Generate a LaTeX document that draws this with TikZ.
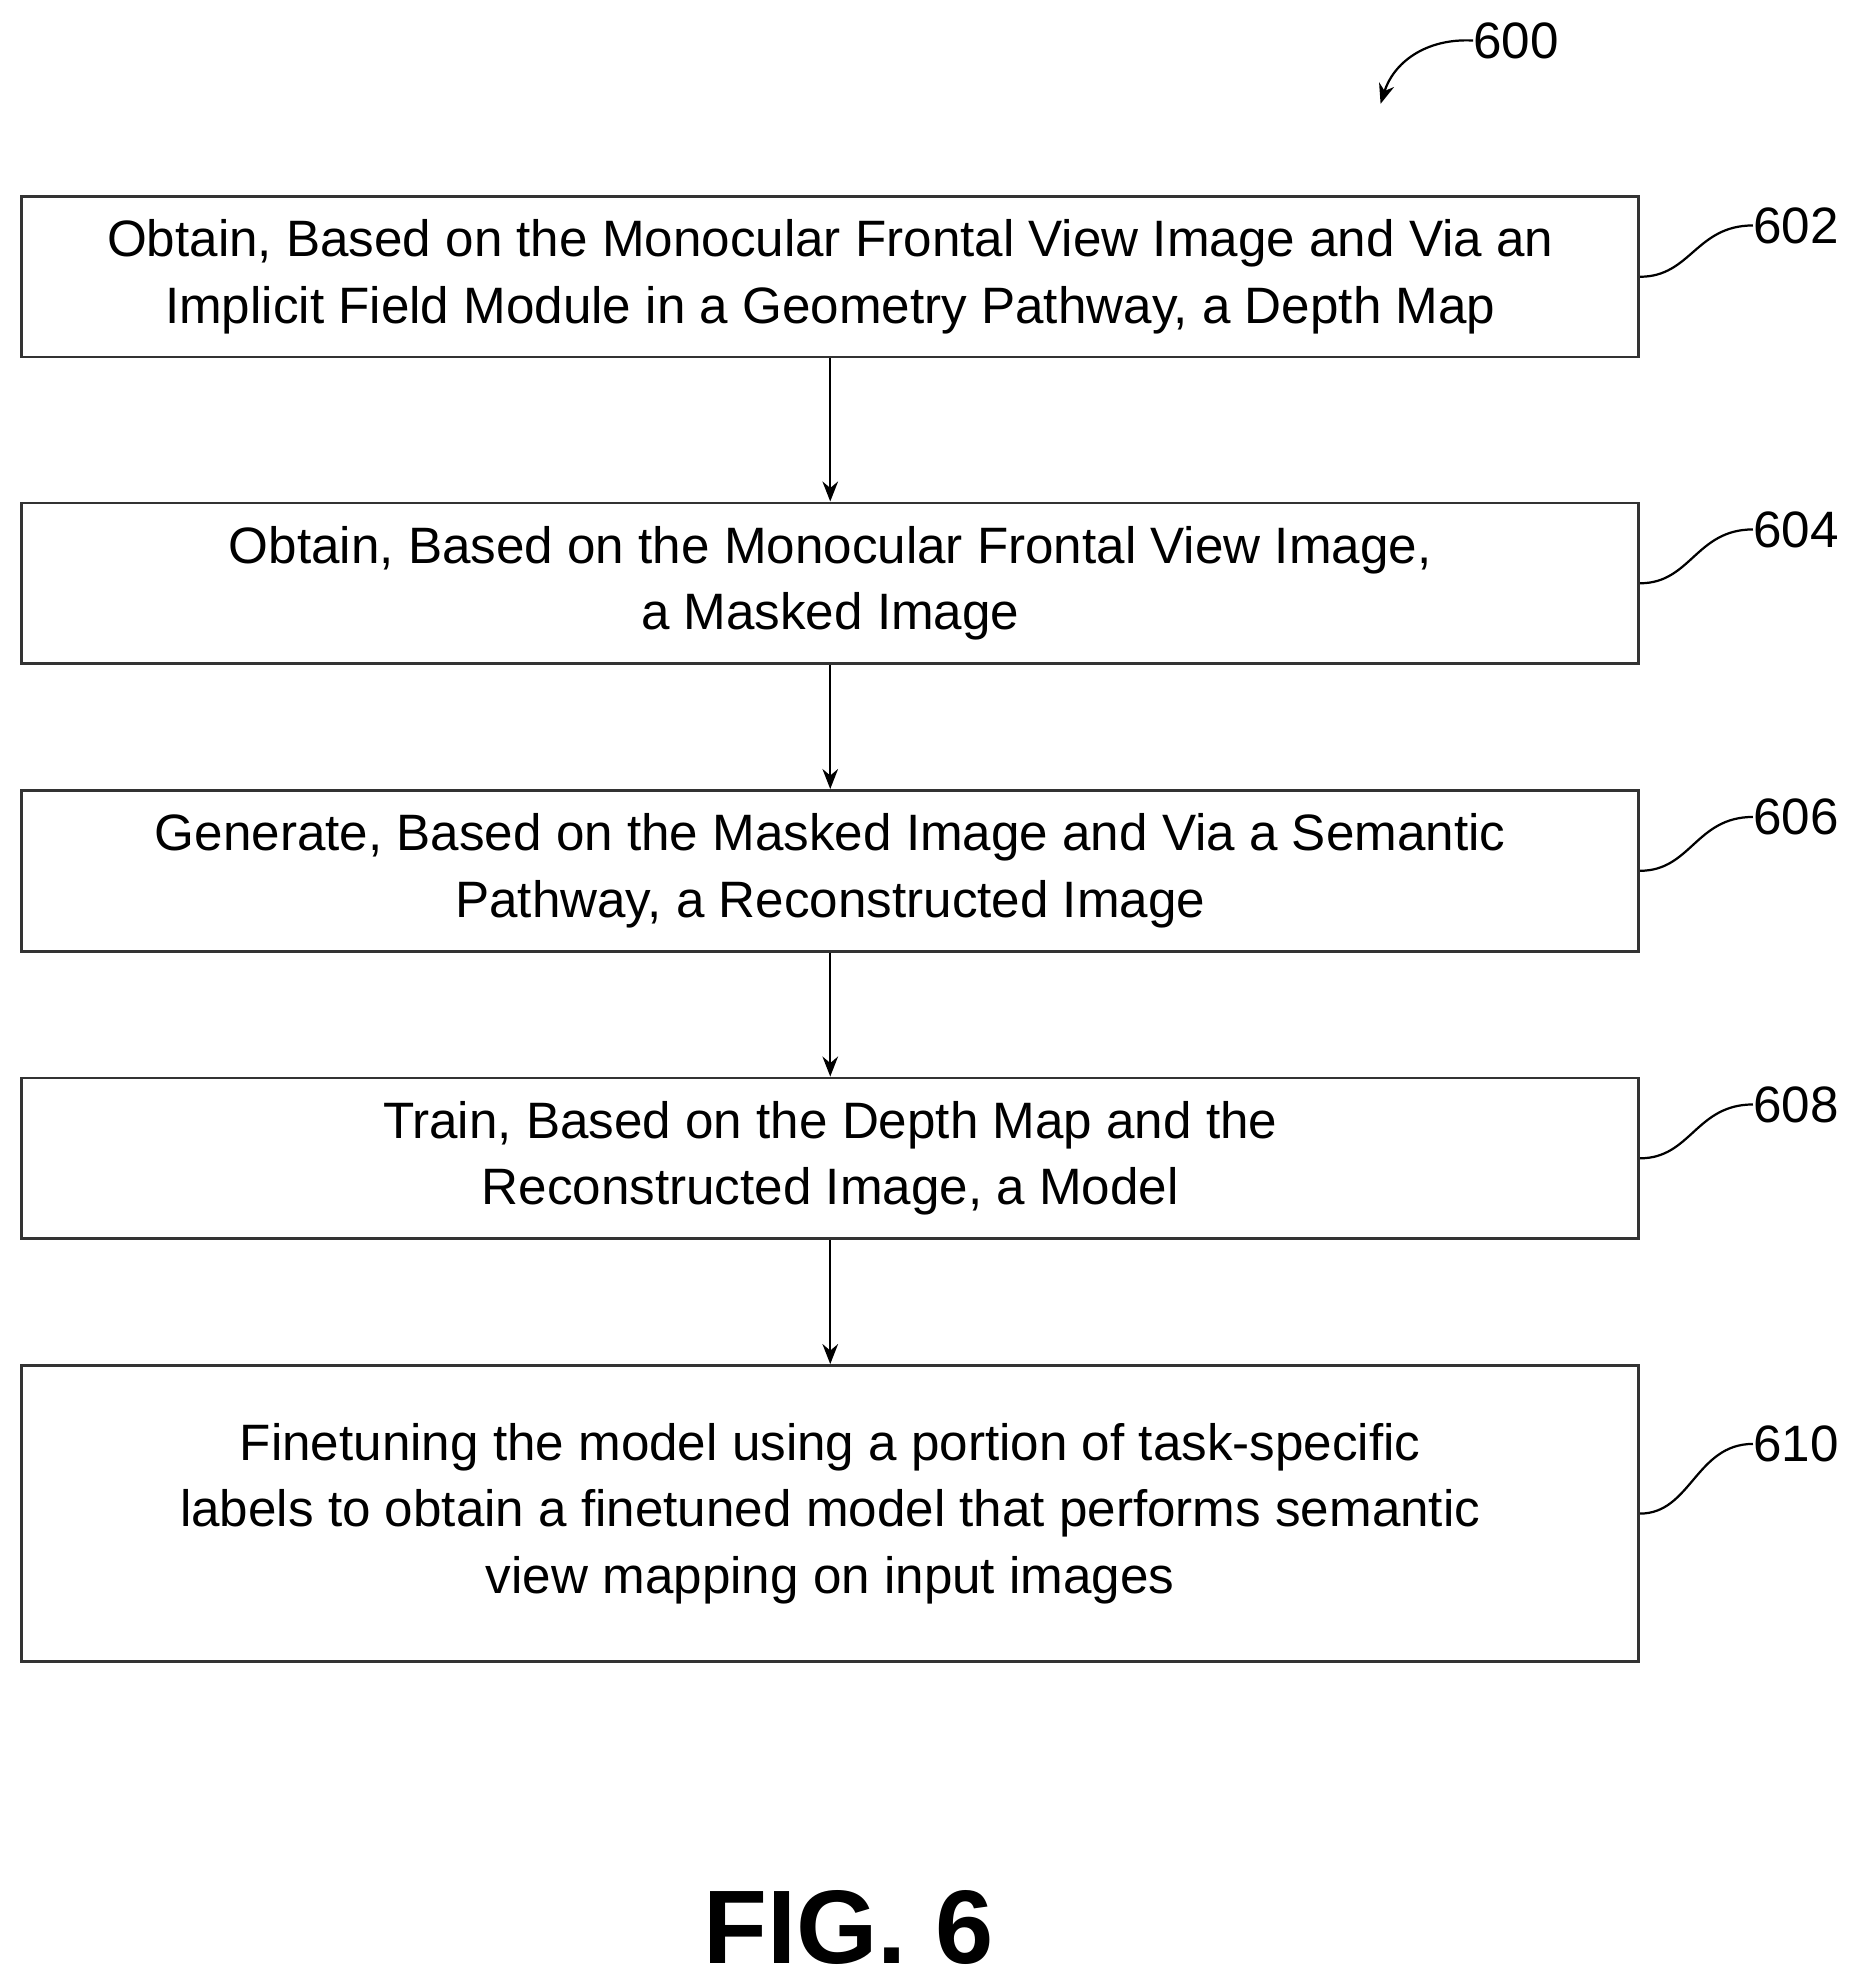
\documentclass[tikz,border=0pt]{standalone}
\usepackage{fontspec}
\setmainfont{Liberation Sans}
\usetikzlibrary{arrows.meta,calc}
\begin{document}
\begin{tikzpicture}[x=0.02cm,y=-0.02cm,
 box/.style={draw=black!80,line width=1.2pt,minimum width=25.54cm,align=center,font=\fontsize{23}{30}\selectfont,inner sep=0pt},
 lab/.style={font=\fontsize{23}{28}\selectfont,anchor=west,inner sep=0pt},
 arr/.style={-{Stealth[length=9pt,width=7pt]},line width=1pt},
 lead/.style={line width=1pt}]
\useasboundingbox (0,0) rectangle (1470,1568);
\node[box,minimum height=2.54cm] (b1) at (655.5,218.5) {Obtain, Based on the Monocular Frontal View Image and Via an\\Implicit Field Module in a Geometry Pathway, a Depth Map};
\node[box,minimum height=2.54cm] (b2) at (655.5,460.5) {Obtain, Based on the Monocular Frontal View Image,\\a Masked Image};
\node[box,minimum height=2.54cm] (b3) at (655.5,687.5) {Generate, Based on the Masked Image and Via a Semantic\\Pathway, a Reconstructed Image};
\node[box,minimum height=2.54cm] (b4) at (655.5,914.5) {Train, Based on the Depth Map and the\\Reconstructed Image, a Model};
\node[box,minimum height=4.68cm] (b5) at (655.5,1195) {Finetuning the model using a portion of task-specific\\labels to obtain a finetuned model that performs semantic\\view mapping on input images};
\draw[arr] (b1) -- (b2);
\draw[arr] (b2) -- (b3);
\draw[arr] (b3) -- (b4);
\draw[arr] (b4) -- (b5);
\foreach \b/\t/\y in {b1/602/178,b2/604/418,b3/606/645,b4/608/872,b5/610/1140}{
  \node[lab] (l\t) at (1384,\y) {\t};
  \draw[lead] (\b.east) .. controls ($(\b.east)+(40,0)$) and ($(l\t.west)+(-45,0)$) .. (l\t.west);
}
\node[lab] (l600) at (1163,32) {600};
\coordinate (a600) at (1090,82);
\draw[arr] (l600.west) .. controls (1125,30) and (1100,50) .. (a600);
\node[font=\bfseries\fontsize{47}{50}\selectfont] (fig) at (670,1522) {FIG. 6};
\end{tikzpicture}
\end{document}
